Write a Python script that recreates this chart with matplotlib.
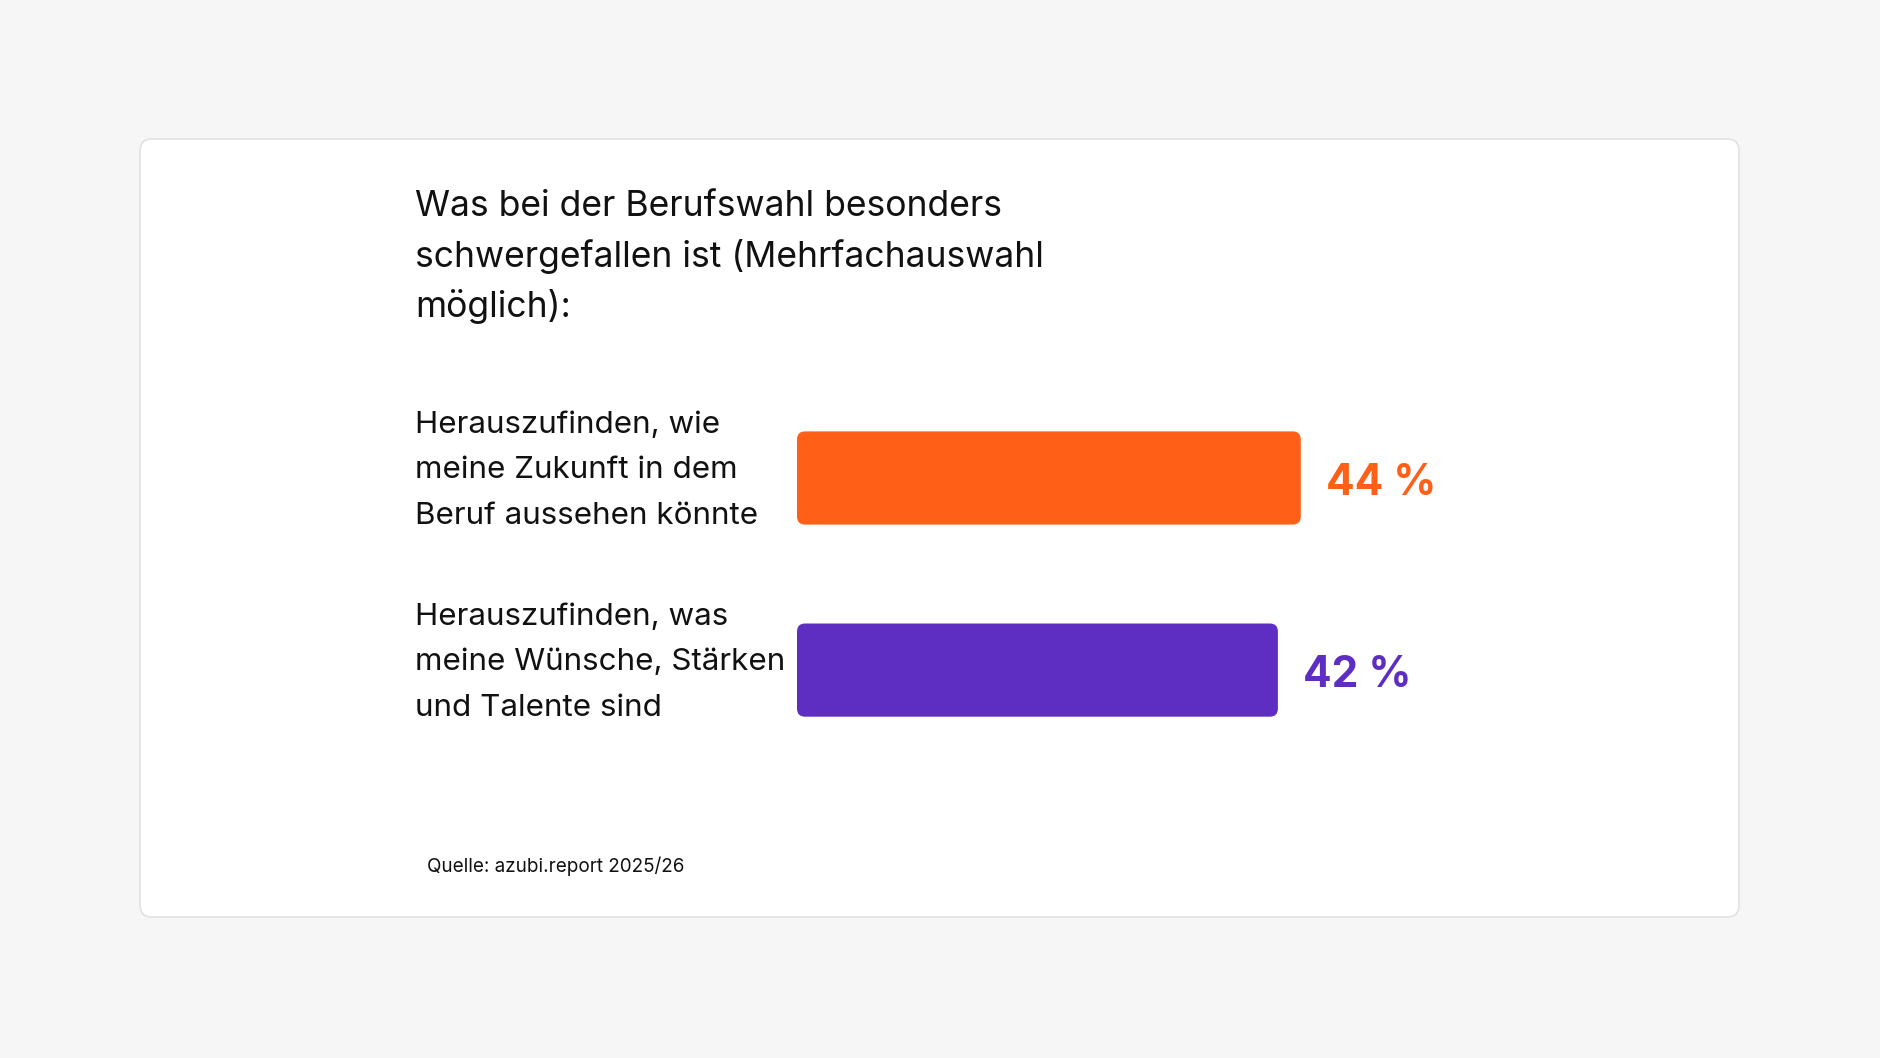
import matplotlib.pyplot as plt
from matplotlib.patches import FancyBboxPatch
from matplotlib.transforms import blended_transform_factory, offset_copy

# data
categories = ["Herauszufinden, wie\nmeine Zukunft in dem\nBeruf aussehen könnte",
              "Herauszufinden, was\nmeine Wünsche, Stärken\nund Talente sind"]
values = [44, 42]
value_labels = ["44 %", "42 %"]
colors = ["#FF5F17", "#5E2EC3"]
title = "Was bei der Berufswahl besonders\nschwergefallen ist (Mehrfachauswahl\nmöglich):"
source = "Quelle: azubi.report 2025/26"

W, H = 1880, 1058
plt.rcParams['font.family'] = ['Inter', 'DejaVu Sans']

fig = plt.figure(figsize=(W / 100, H / 100), dpi=100)
fig.patch.set_facecolor("#f6f6f6")

# background axes in pixel units, for the white card
bg = fig.add_axes([0, 0, 1, 1])
bg.set_xlim(0, W)
bg.set_ylim(H, 0)
bg.axis("off")
card = FancyBboxPatch((140, 139), 1599, 778, boxstyle="round,pad=0,rounding_size=12",
                      facecolor="white", edgecolor="#e2e2e2", linewidth=1.2)
bg.add_patch(card)

bg.text(415, 257, title, fontsize=25.6, color="#111111", va="center", ha="left",
        linespacing=1.56)
bg.text(427, 866, source, fontsize=13.6, color="#111111", va="center", ha="left")

# bar axes
x0 = 797 / W
ax = fig.add_axes([x0, (H - 770) / H, 572.5 / W, 390 / H])
ax.set_xlim(0, 50)
ax.set_ylim(1.52, -0.51)
ax.axis("off")

bar_h = 0.485
r = 0.7
for i, (v, c) in enumerate(zip(values, colors)):
    p = FancyBboxPatch((0, i - bar_h / 2), v, bar_h,
                       boxstyle="round,pad=0,rounding_size=%s" % r,
                       mutation_aspect=0.06, facecolor=c, edgecolor="none")
    ax.add_patch(p)
    ax.annotate(value_labels[i], xy=(v, i), xytext=(18, -4), textcoords="offset points",
                fontsize=30.5, fontweight="bold", color=c, va="center", ha="left")

lab_tr = blended_transform_factory(fig.transFigure, ax.transData)
lab_tr = offset_copy(lab_tr, fig=fig, x=0, y=5.5, units="points")
for i, lab in enumerate(categories):
    ax.text(415 / W, i, lab, transform=lab_tr, fontsize=22.6, color="#111111",
            va="center", ha="left", linespacing=1.78)

fig.savefig("out.png", dpi=100, facecolor=fig.get_facecolor())
